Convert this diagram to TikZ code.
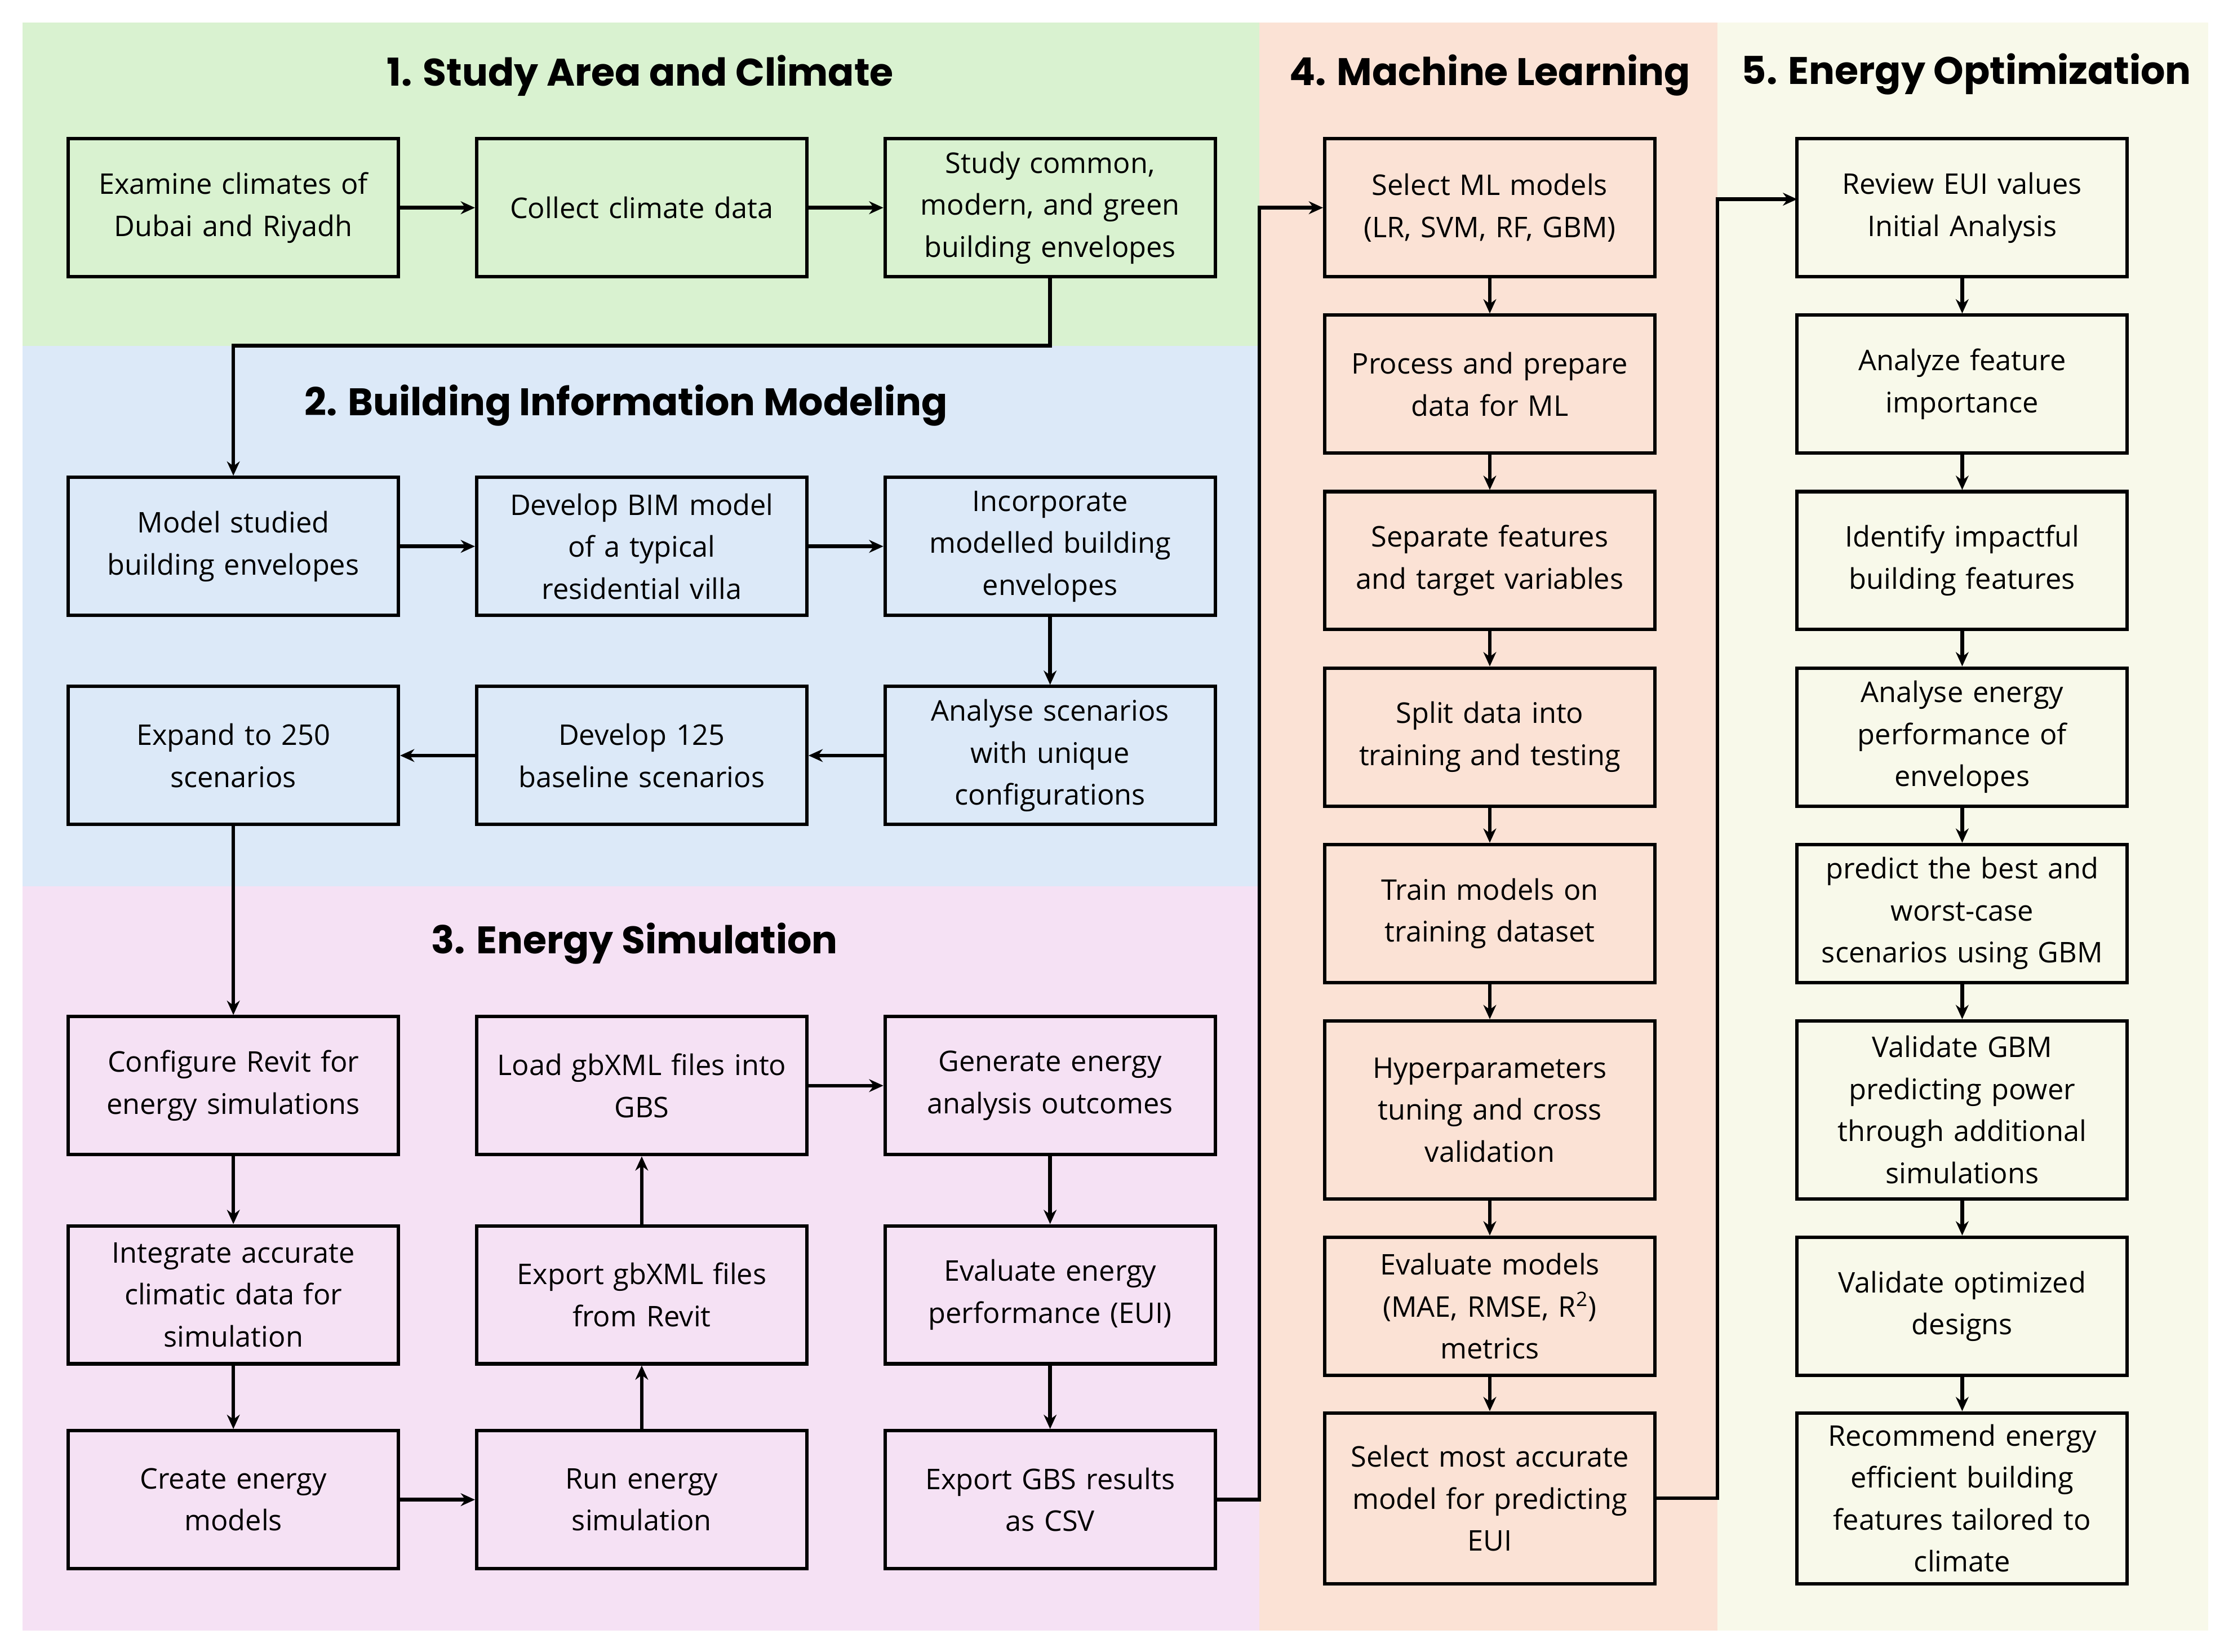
\documentclass[tikz,border=0pt]{standalone}
\usepackage{fontspec}
\setmainfont{Open Sans}
\newfontfamily\titlefont{Poppins}
\usetikzlibrary{arrows.meta}
\definecolor{cgreen}{HTML}{D9F2D0}
\definecolor{cblue}{HTML}{DCE9F8}
\definecolor{cpink}{HTML}{F5E1F4}
\definecolor{corange}{HTML}{FBE2D5}
\definecolor{ccream}{HTML}{F8F9EA}
\begin{document}
\begin{tikzpicture}[x=1pt,y=-1pt,
  box/.style={draw=black,line width=2.4pt,minimum width=232pt,minimum height=97pt,align=center,text width=222pt,font=\fontsize{20}{29.5}\selectfont,inner sep=0pt},
  ttl/.style={font=\titlefont\bfseries\fontsize{27}{30}\selectfont},
  arr/.style={line width=2.6pt,-{Stealth[length=10pt,width=9pt]}}]
\useasboundingbox (0,0) rectangle (1563,1161);
\fill[white] (0,0) rectangle (1563,1161);
\fill[cgreen] (16,16) rectangle (885,243);
\fill[cblue] (16,243) rectangle (885,623);
\fill[cpink] (16,623) rectangle (885,1146);
\fill[corange] (885,16) rectangle (1207,1146);
\fill[ccream] (1207,16) rectangle (1552,1146);
\node[ttl] (t1) at (450,53) {1. Study Area and Climate};
\node[ttl] (t2) at (440,285) {2. Building Information Modeling};
\node[ttl] (t3) at (446,663) {3. Energy Simulation};
\node[ttl] (t4) at (1047,53) {4. Machine Learning};
\node[ttl] (t5) at (1382,52) {5. Energy Optimization};
% section 1
\node[box,fill=cgreen] (a1) at (164,146) {Examine climates of\\Dubai and Riyadh};
\node[box,fill=cgreen] (b1) at (451,146) {Collect climate data};
\node[box,fill=cgreen] (c1) at (738,146) {Study common,\\modern, and green\\building envelopes};
% section 2
\node[box,fill=cblue] (a2) at (164,384) {Model studied\\building envelopes};
\node[box,fill=cblue] (b2) at (451,384) {Develop BIM model\\of a typical\\residential villa};
\node[box,fill=cblue] (c2) at (738,384) {Incorporate\\modelled building\\envelopes};
\node[box,fill=cblue] (a3) at (164,531) {Expand to 250\\scenarios};
\node[box,fill=cblue] (b3) at (451,531) {Develop 125\\baseline scenarios};
\node[box,fill=cblue] (c3) at (738,531) {Analyse scenarios\\with unique\\configurations};
% section 3
\node[box,fill=cpink] (a4) at (164,763) {Configure Revit for\\energy simulations};
\node[box,fill=cpink] (b4) at (451,763) {Load gbXML files into\\GBS};
\node[box,fill=cpink] (c4) at (738,763) {Generate energy\\analysis outcomes};
\node[box,fill=cpink] (a5) at (164,910) {Integrate accurate\\climatic data for\\simulation};
\node[box,fill=cpink] (b5) at (451,910) {Export gbXML files\\from Revit};
\node[box,fill=cpink] (c5) at (738,910) {Evaluate energy\\performance (EUI)};
\node[box,fill=cpink] (a6) at (164,1054) {Create energy\\models};
\node[box,fill=cpink] (b6) at (451,1054) {Run energy\\simulation};
\node[box,fill=cpink] (c6) at (738,1054) {Export GBS results\\as CSV};
% section 4
\node[box,fill=corange] (m1) at (1047,146) {Select ML models\\(LR, SVM, RF, GBM)};
\node[box,fill=corange] (m2) at (1047,270) {Process and prepare\\data for ML};
\node[box,fill=corange] (m3) at (1047,394) {Separate features\\and target variables};
\node[box,fill=corange] (m4) at (1047,518) {Split data into\\training and testing};
\node[box,fill=corange] (m5) at (1047,642) {Train models on\\training dataset};
\node[box,fill=corange,minimum height=125pt] (m6) at (1047,780) {Hyperparameters\\tuning  and cross\\validation};
\node[box,fill=corange] (m7) at (1047,918) {Evaluate models\\(MAE, RMSE, R\textsuperscript{2})\\metrics};
\node[box,fill=corange,minimum height=120pt] (m8) at (1047,1053) {Select most accurate\\model for predicting\\EUI};
% section 5
\node[box,fill=ccream] (o1) at (1379,146) {Review EUI values\\Initial Analysis};
\node[box,fill=ccream] (o2) at (1379,270) {Analyze feature\\importance};
\node[box,fill=ccream] (o3) at (1379,394) {Identify impactful\\building features};
\node[box,fill=ccream] (o4) at (1379,518) {Analyse energy\\performance of\\envelopes};
\node[box,fill=ccream] (o5) at (1379,642) {predict the best and\\worst-case\\scenarios using GBM};
\node[box,fill=ccream,minimum height=125pt] (o6) at (1379,780) {Validate GBM\\predicting power\\through additional\\simulations};
\node[box,fill=ccream] (o7) at (1379,918) {Validate optimized\\designs};
\node[box,fill=ccream,minimum height=120pt] (o8) at (1379,1053) {Recommend energy\\efficient building\\features tailored to\\climate};
\coordinate (j1) at (885,1054);
\coordinate (j2) at (1207,1053);
% arrows
\draw[arr] (a1) -- (b1);
\draw[arr] (b1) -- (c1);
\draw[arr] (c1.south) -- (738,243) -- (164,243) -- (a2.north);
\draw[arr] (a2) -- (b2);
\draw[arr] (b2) -- (c2);
\draw[arr] (c2) -- (c3);
\draw[arr] (c3) -- (b3);
\draw[arr] (b3) -- (a3);
\draw[arr] (a3) -- (a4);
\draw[arr] (a4) -- (a5);
\draw[arr] (a5) -- (a6);
\draw[arr] (a6) -- (b6);
\draw[arr] (b6) -- (b5);
\draw[arr] (b5) -- (b4);
\draw[arr] (b4) -- (c4);
\draw[arr] (c4) -- (c5);
\draw[arr] (c5) -- (c6);
\draw[arr] (c6.east) -- (j1) -- (885,146) -- (m1.west);
\draw[arr] (m1) -- (m2);
\draw[arr] (m2) -- (m3);
\draw[arr] (m3) -- (m4);
\draw[arr] (m4) -- (m5);
\draw[arr] (m5) -- (m6);
\draw[arr] (m6) -- (m7);
\draw[arr] (m7) -- (m8);
\draw[arr] (m8.east) -- (j2) -- (1207,140) -- (1263,140);
\draw[arr] (o1) -- (o2);
\draw[arr] (o2) -- (o3);
\draw[arr] (o3) -- (o4);
\draw[arr] (o4) -- (o5);
\draw[arr] (o5) -- (o6);
\draw[arr] (o6) -- (o7);
\draw[arr] (o7) -- (o8);
\end{tikzpicture}
\end{document}
